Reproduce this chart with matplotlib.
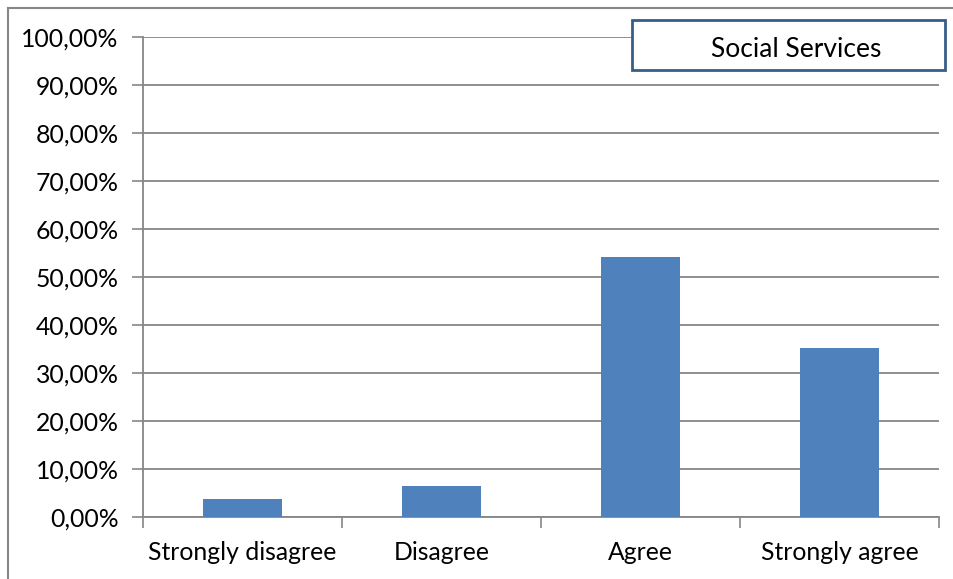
import matplotlib
matplotlib.use("Agg")
import matplotlib.pyplot as plt
from matplotlib.patches import Rectangle
from matplotlib.lines import Line2D

categories = ["Strongly disagree", "Disagree", "Agree", "Strongly agree"]
values = [3.7, 6.4, 54.2, 35.3]
yticks = [0, 10, 20, 30, 40, 50, 60, 70, 80, 90, 100]
ytick_labels = ["0,00%", "10,00%", "20,00%", "30,00%", "40,00%", "50,00%",
                "60,00%", "70,00%", "80,00%", "90,00%", "100,00%"]
series_name = "Social Services"

plt.rcParams['font.family'] = ['Lato', 'DejaVu Sans']

W, H = 954, 579
fig = plt.figure(figsize=(W / 100, H / 100), dpi=100)
ax = fig.add_axes([143 / W, 1 - 517 / H, (939 - 143) / W, (517 - 37) / H])

grid_c = "#868686"
bar_c = "#4F81BD"

ax.bar(range(len(categories)), values, width=0.4, color=bar_c, zorder=3)
ax.set_xlim(-0.5, len(categories) - 0.5)
ax.set_ylim(0, 100)
ax.set_yticks(yticks)
ax.set_yticklabels(ytick_labels, fontsize=17.8, color="black")
ax.set_xticks(range(len(categories)))
ax.set_xticklabels(categories, fontsize=17.8, color="black")
ax.tick_params(axis='x', length=0, pad=17.5)
ax.tick_params(axis='y', length=8, width=1.2, color=grid_c, pad=9.5)
# category separator ticks
ax.set_xticks([i - 0.5 for i in range(len(categories) + 1)], minor=True)
ax.tick_params(axis='x', which='minor', length=8, width=1.2, color=grid_c)
ax.grid(axis='y', color=grid_c, linewidth=1.3, zorder=0)
for s in ['top', 'right']:
    ax.spines[s].set_visible(False)
for s in ['left', 'bottom']:
    ax.spines[s].set_color(grid_c)
    ax.spines[s].set_linewidth(1.3)

# legend box
lx0, ly0, lx1, ly1 = 632, 20, 945, 70
fig.patches.append(Rectangle((lx0 / W, 1 - ly1 / H), (lx1 - lx0) / W, (ly1 - ly0) / H,
                             transform=fig.transFigure, facecolor="white",
                             edgecolor="#385D8A", linewidth=2, zorder=10))
fig.text(796 / W, 1 - 49.5 / H, series_name,
         fontsize=19, ha='center', va='center', zorder=11)

# chart outer border (left and top visible)
fig.lines.append(Line2D([8 / W, 8 / W], [0, 1 - 8 / H], transform=fig.transFigure,
                        color=grid_c, linewidth=1.5))
fig.lines.append(Line2D([8 / W, 1], [1 - 8 / H, 1 - 8 / H], transform=fig.transFigure,
                        color=grid_c, linewidth=1.5))

fig.savefig("out.png", dpi=100)
